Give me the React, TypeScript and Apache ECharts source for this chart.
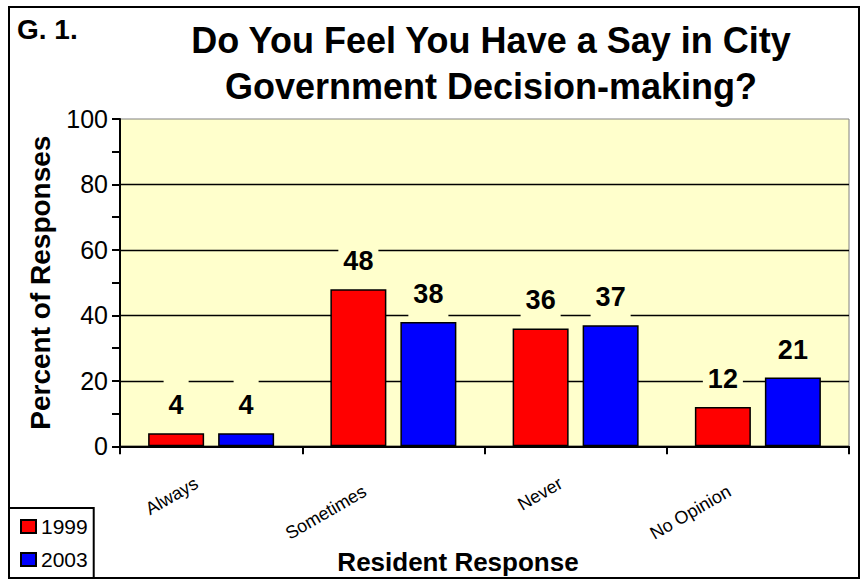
import React, { useEffect, useRef } from "react";
import * as echarts from "echarts";

const categories = ["Always", "Sometimes", "Never", "No Opinion"];
const series1999 = [4, 48, 36, 12];
const series2003 = [4, 38, 37, 21];
const seriesNames = ["1999", "2003"];
const yTicks = { min: 0, max: 100, interval: 20 };
const titleLines = ["Do You Feel You Have a Say in City", "Government Decision-making?"];

const FONT = "'Liberation Sans', Arial, sans-serif";

export default function App() {
  const ref = useRef<HTMLDivElement>(null);

  useEffect(() => {
    if (!ref.current) return;
    const chart = echarts.init(ref.current, null, { renderer: "svg" });

    const labelCfg = {
      show: true,
      position: "top",
      distance: 2,
      fontSize: 27,
      fontWeight: "bold",
      fontFamily: FONT,
      color: "#000",
      lineHeight: 26,
      backgroundColor: "#FFFFCC",
      padding: [16, 5, 13, 5],
    };

    const tokenBase = { fontSize: 18, fontFamily: FONT, color: "#000" };

    chart.setOption({
      animation: false,
      backgroundColor: "#ffffff",
      textStyle: { fontFamily: FONT, color: "#000" },
      title: {
        text: titleLines.join("\n"),
        left: 491,
        top: 17,
        padding: 0,
        textAlign: "center",
        textStyle: {
          fontSize: 36,
          fontWeight: "bold",
          fontFamily: FONT,
          color: "#000",
          lineHeight: 46,
        },
      },
      legend: {
        data: seriesNames,
        orient: "vertical",
        left: 9,
        top: 508,
        padding: [8, 6, 8, 11],
        itemGap: 12,
        itemWidth: 15,
        itemHeight: 13,
        itemTextGap: 7,
        icon: "rect",
        borderColor: "#000",
        borderWidth: 2,
        textStyle: { fontSize: 21, fontFamily: FONT, color: "#000" },
      },
      grid: {
        left: 120,
        right: 12,
        top: 119,
        bottom: 132,
        show: true,
        backgroundColor: "#FFFFCC",
        borderColor: "#808080",
        borderWidth: 1,
      },
      xAxis: {
        type: "category",
        data: categories,
        boundaryGap: true,
        name: "Resident Response",
        nameLocation: "middle",
        nameGap: 90,
        nameTextStyle: {
          fontSize: 26,
          fontWeight: "bold",
          fontFamily: FONT,
          color: "#000",
          padding: [0, 53, 0, 0],
        },
        axisLine: { show: true, lineStyle: { color: "#000", width: 2 } },
        axisTick: { show: true, length: 8, lineStyle: { color: "#000", width: 2 } },
        axisLabel: {
          rotate: 30,
          fontSize: 18,
          fontFamily: FONT,
          color: "#000",
          margin: 27,
          padding: [0, 17, 0, 0],
          formatter: (value: string) => {
            const long = value.length > 7;
            return long ? `{l|${value}}` : `{s|${value}}`;
          },
          rich: {
            s: { ...tokenBase },
            l: { ...tokenBase, padding: [0, 16, 0, 0] },
          },
        },
        splitLine: { show: false },
      },
      yAxis: {
        type: "value",
        min: yTicks.min,
        max: yTicks.max,
        interval: yTicks.interval,
        name: "Percent of Responses",
        nameLocation: "middle",
        nameGap: 66,
        nameTextStyle: {
          fontSize: 28,
          fontWeight: "bold",
          fontFamily: FONT,
          color: "#000",
        },
        axisLine: { show: true, lineStyle: { color: "#000", width: 2 } },
        axisTick: { show: true, length: 8, lineStyle: { color: "#000", width: 2 } },
        minorTick: { show: true, splitNumber: 2, length: 8, lineStyle: { color: "#000", width: 2 } },
        axisLabel: { fontSize: 25, fontFamily: FONT, color: "#000", margin: 12 },
        splitLine: {
          show: true,
          showMaxLine: false,
          lineStyle: { color: "#000", width: 1.3 },
        },
      },
      series: [
        {
          name: seriesNames[0],
          type: "bar",
          data: series1999,
          barWidth: 56,
          barGap: "25%",
          itemStyle: { color: "#FF0000", borderColor: "#000", borderWidth: 1.5 },
          label: labelCfg,
        },
        {
          name: seriesNames[1],
          type: "bar",
          data: series2003,
          barWidth: 56,
          barGap: "25%",
          itemStyle: { color: "#0000FF", borderColor: "#000", borderWidth: 1.5 },
          label: labelCfg,
        },
      ],
      graphic: [
        {
          type: "rect",
          shape: { x: 9, y: 7, width: 850, height: 571 },
          style: { fill: "none", stroke: "#000", lineWidth: 2 },
          silent: true,
          z: 100,
        },
        {
          type: "text",
          x: 17,
          y: 29,
          style: {
            text: "G. 1.",
            fontSize: 28,
            fontWeight: "bold",
            fontFamily: FONT,
            fill: "#000",
            verticalAlign: "middle",
          },
        },
      ],
    });

    return () => chart.dispose();
  }, []);

  return (
    <div
      ref={ref}
      style={{ position: "fixed", left: 0, top: 0, width: 861, height: 580 }}
    />
  );
}
